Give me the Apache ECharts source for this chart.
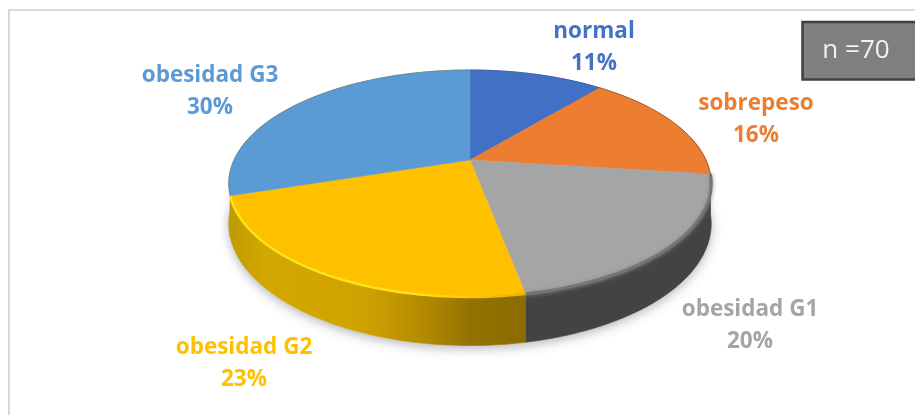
<!DOCTYPE html>
<html><head><meta charset="utf-8">
<style>html,body{margin:0;padding:0;background:#fff}#c{width:915px;height:415px}</style>
<script src="https://cdn.jsdelivr.net/npm/echarts@6/dist/echarts.min.js"></script>
</head><body><div id="c"></div>
<script>
// ---- data ----
const categories = ['normal','sobrepeso','obesidad G1','obesidad G2','obesidad G3'];
const percents = [11,16,20,23,30];
const sampleSize = 70;
// ---- styles ----
const topColors = ['#4270c4','#ed7d31','#a5a5a5','#ffc000','#5b9bd5'];
const labelColors = ['#4472c4','#ed7d31','#a5a5a5','#ffc000','#5b9bd5'];
const g2Rim = {type:'linear',global:true,x:230,y:0,x2:523,y2:0,colorStops:[
  {offset:0,color:'#ffe21a'},{offset:.6,color:'#ffe21a'},{offset:.78,color:'#ffcf00'},{offset:1,color:'#e8b000'}]};
const rimColors = ['rgba(70,90,130,.35)','rgba(110,80,60,.55)','#757575',g2Rim,'rgba(95,125,155,.55)'];
const wallFills = [
  '#2f5597','#ae5a21','#434343',
  {type:'linear',global:true,x:230,y:0,x2:523,y2:0,colorStops:[
    {offset:0,color:'#c09a00'},{offset:.12,color:'#d3a700'},{offset:.45,color:'#d0a200'},
    {offset:.65,color:'#b58c00'},{offset:.82,color:'#937200'},{offset:1,color:'#8c6c00'}]},
  '#c09a00'
];
const labelAnchors = [[594,48],[756,120],[750,326],[244,364],[210,92]];
// projected disc geometry, in the hidden axes' units
const disc = {cx:470, cy:160, R:236, a:-75.5, c:0.207, depth:38.5};

function rimPoint(frac, drop){
  const t = frac*2*Math.PI, u = Math.sin(t), v = Math.cos(t), w = 1 + disc.c*v;
  return [disc.cx + disc.R*u/w, (disc.a*v + disc.cy)/w + (drop ? disc.depth/w : 0)];
}
function arc(f0, f1, drop){
  const n = Math.max(4, Math.ceil((f1-f0)*240)), out = [];
  for(let i=0;i<=n;i++) out.push(rimPoint(f0+(f1-f0)*i/n, drop));
  return out;
}
const total = percents.reduce((a,b)=>a+b,0);
const starts = []; percents.reduce((s,p,i)=>{starts[i]=s/total; return s+p;},0);
const ends = starts.map((s,i)=>s+percents[i]/total);
const px = (api,pts)=>pts.map(p=>api.coord(p));

const chart = echarts.init(document.getElementById('c'),null,{renderer:'canvas'});
chart.setOption({
  animation:false,
  backgroundColor:'#fff',
  grid:{left:0,right:0,top:0,bottom:0},
  xAxis:{type:'value',min:0,max:915,show:false},
  yAxis:{type:'value',min:0,max:415,inverse:true,show:false},
  series:[
    {type:'custom',coordinateSystem:'cartesian2d',z:1,silent:true,clip:false,data:[total],
     renderItem(p,api){
       return {type:'polygon',shape:{points:px(api,arc(0,1,true))},
         style:{fill:'#ececec',shadowBlur:11,shadowOffsetY:3,shadowColor:'rgba(60,60,80,.38)'}};
     }},
    {type:'custom',coordinateSystem:'cartesian2d',z:2,silent:true,clip:false,data:percents,
     renderItem(p,api){
       const i=p.dataIndex;
       const pts=arc(starts[i],ends[i],false).concat(arc(starts[i],ends[i],true).reverse());
       return {type:'polygon',shape:{points:px(api,pts)},style:{fill:wallFills[i],stroke:wallFills[i],lineWidth:.6}};
     }},
    {type:'custom',coordinateSystem:'cartesian2d',z:3,silent:true,clip:false,data:percents,
     renderItem(p,api){
       const i=p.dataIndex;
       const pts=[[disc.cx,disc.cy]].concat(arc(starts[i],ends[i],false));
       return {type:'polygon',shape:{points:px(api,pts)},style:{fill:topColors[i],stroke:topColors[i],lineWidth:.5}};
     }},
    {type:'custom',coordinateSystem:'cartesian2d',z:4,silent:true,clip:false,data:percents,
     renderItem(p,api){
       const i=p.dataIndex;
       const soft=i===2;
       return {type:'polyline',shape:{points:px(api,arc(starts[i],ends[i],false))},
         style:{fill:null,stroke:rimColors[i],lineWidth:i===2?3:i===3?2.5:1,
           shadowBlur:soft?4:0,shadowColor:soft?'#8a8a8a':'transparent'}};
     }},
    {type:'custom',coordinateSystem:'cartesian2d',z:5,silent:true,clip:false,data:percents,
     renderItem(p,api){
       const i=p.dataIndex, a=api.coord(labelAnchors[i]);
       return {type:'text',x:a[0],y:a[1],style:{
         text:categories[i]+'\n'+percents[i]+'%',
         fill:labelColors[i],font:'bold 22.5px "Open Sans"',align:'center',verticalAlign:'middle',lineHeight:32}};
     }}
  ],
  graphic:[
    {type:'polyline',z:10,shape:{points:[[9,415],[9,10],[915,10]]},style:{fill:null,stroke:'#d9d9d9',lineWidth:2}},
    {type:'rect',z:10,shape:{x:802.5,y:22,width:120,height:57.5},style:{fill:'#7f7f7f',stroke:'#404040',lineWidth:2.5}},
    {type:'text',z:11,x:856,y:51,style:{text:'n ='+sampleSize,fill:'#f2f2f2',font:'26px "Open Sans"',align:'center',verticalAlign:'middle'}}
  ]
});
</script></body></html>
